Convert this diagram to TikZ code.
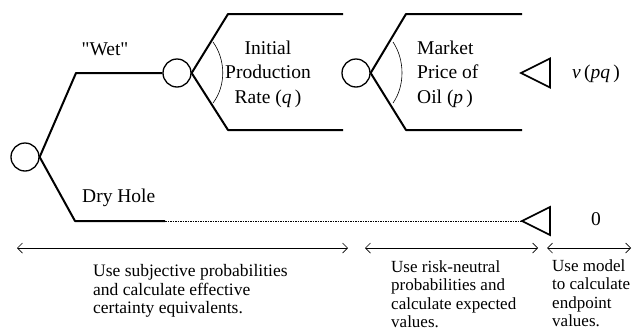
\documentclass[tikz,border=0pt]{standalone}
\usepackage{fontspec}
\setmainfont{Liberation Serif}
\newfontfamily\plainserif{Liberation Serif}
\usetikzlibrary{arrows.meta}
\begin{document}
\begin{tikzpicture}[x=1pt,y=-1pt,
  chance/.style={circle,draw,line width=1.3pt,minimum size=28pt,inner sep=0pt},
  branch/.style={line width=2pt,line join=round},
  lbl/.style={font=\fontsize{19.5}{24.5}\selectfont,inner sep=0pt},
  note/.style={font=\fontsize{17}{18.5}\selectfont,inner sep=0pt,align=left,anchor=north west},
  span/.style={line width=0.7pt,{Straight Barb[length=5pt,width=10pt]}-{Straight Barb[length=5pt,width=10pt]}},
  bracket/.style={line width=0.6pt},
  term/.style={line width=1.6pt,line join=miter},
  dots/.style={line width=0.6pt,dash pattern=on 1.5pt off 1pt}
]
\useasboundingbox (0,0) rectangle (632,335);
% chance nodes
\node[chance] (c1) at (25,157) {};
\node[chance] (c2) at (177,73) {};
\node[chance] (c3) at (356,73) {};
% first chance branches
\coordinate (w1) at (76,73);
\draw[branch] (c1.east) -- (w1) -- (c2.west);
\coordinate (d1) at (75,221);
\coordinate (d2) at (165,221);
\draw[branch] (c1.east) -- (d1) -- (d2);
\coordinate (t2) at (522,221);
\draw[dots] (d2) -- (t2);
% second chance branches
\coordinate (p1) at (228,14);
\coordinate (p2) at (343,14);
\coordinate (p3) at (228,130);
\coordinate (p4) at (343,130);
\draw[branch] (c2.east) -- (p1) -- (p2);
\draw[branch] (c2.east) -- (p3) -- (p4);
% third chance branches
\coordinate (m1) at (406,14);
\coordinate (m2) at (522,14);
\coordinate (m3) at (406,130);
\coordinate (m4) at (522,130);
\draw[branch] (c3.east) -- (m1) -- (m2);
\draw[branch] (c3.east) -- (m3) -- (m4);
% terminal triangles
\coordinate (t1) at (521,73);
\draw[term] (t1) -- ++(29,-14.5) -- ++(0,29) -- cycle;
\draw[term] (t2) -- ++(28,-14) -- ++(0,28) -- cycle;
% brackets
\draw[bracket] (213,42) .. controls (226,60) and (226,86) .. (213,103);
\draw[bracket] (393,42) .. controls (405,60) and (405,86) .. (393,103);
% labels
\node[lbl] (wet) at (105,49) {\plainserif "Wet"};
\node[lbl,anchor=west] (dry) at (82,198) {Dry Hole};
\node[lbl,align=center] (ipr) at (268,74) {Initial\\Production\\Rate (\textit{q}\,)};
\node[lbl,align=left,anchor=west] (mpo) at (417,74) {Market\\Price of\\Oil (\textit{p}\,)};
\node[lbl] (v) at (596,74) {\textit{v}\,(\textit{pq}\,)};
\node[lbl] (zero) at (596,219) {0};
% spans
\coordinate (a1) at (17,248);
\coordinate (a2) at (348,248);
\coordinate (a3) at (365,248);
\coordinate (a4) at (538,248);
\coordinate (a5) at (547,248);
\coordinate (a6) at (631,248);
\draw[span] (a1) -- (a2);
\draw[span] (a3) -- (a4);
\draw[span] (a5) -- (a6);
% notes
\node[note,font=\fontsize{17.5}{18.7}\selectfont] (n1) at (93,264) {Use subjective probabilities\\and calculate effective\\certainty equivalents.};
\node[note] (n2) at (391,260) {Use risk-neutral\\probabilities and\\calculate expected\\values.};
\node[note] (n3) at (552,259) {Use model\\to calculate\\endpoint\\values.};
\end{tikzpicture}
\end{document}
